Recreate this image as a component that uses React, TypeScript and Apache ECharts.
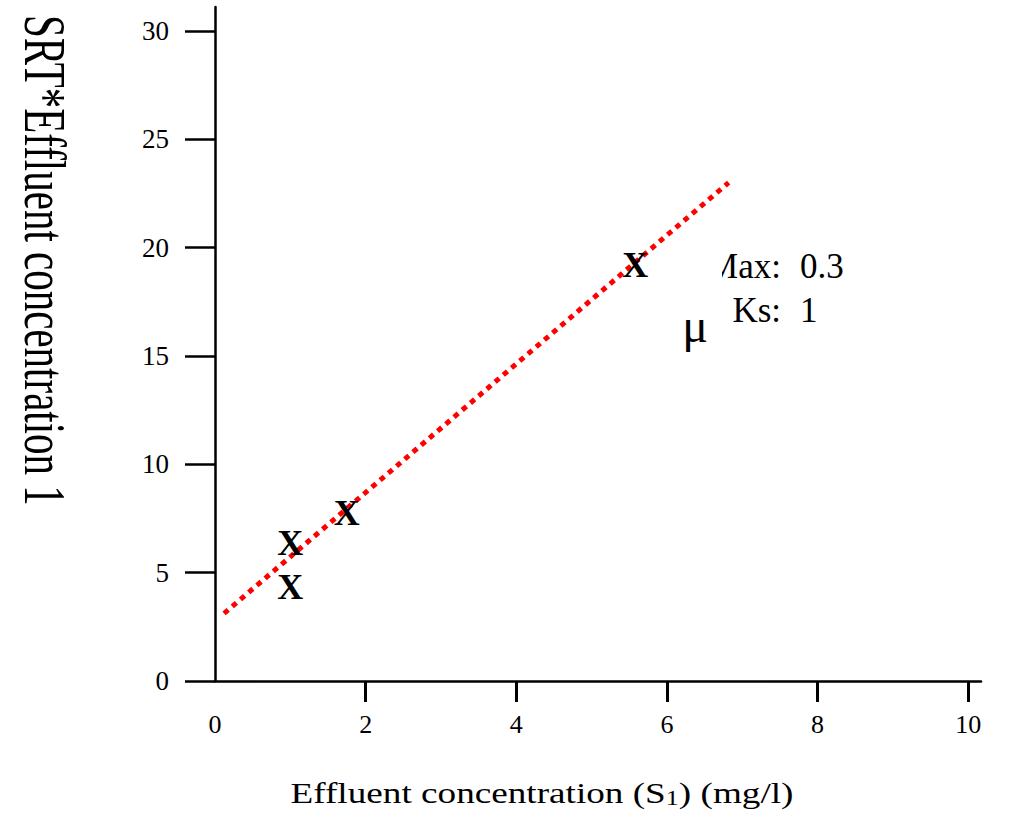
import React, { useEffect, useRef } from "react";
import * as echarts from "echarts";

// ---- data ----
const X_TICKS = [0, 2, 4, 6, 8, 10];
const X_MINOR_TICKS = [2, 4, 6, 8, 10];
const Y_TICKS = [0, 5, 10, 15, 20, 25, 30];

// measured points (effluent concentration S1, SRT*S1)
const S_VALUES = [1.0, 1.0, 1.75, 5.58];
const SRT_S_VALUES = [6.35, 4.35, 7.74, 19.2];

// fitted straight line end points
const FIT_X = [0.12, 6.82];
const FIT_Y = [3.12, 23.0];

const PARAM_LABELS = ["Max:", "Ks:"];
const PARAM_VALUES = ["0.3", "1"];

const SERIF = "Liberation Serif";

export default function App() {
  const ref = useRef<HTMLDivElement>(null);

  useEffect(() => {
    document.body.style.margin = "0";
    if (!ref.current) return;
    const chart = echarts.init(ref.current, undefined, { renderer: "svg" });

    const points = S_VALUES.map((s, i) => [s, SRT_S_VALUES[i]]);
    const fit = FIT_X.map((x, i) => [x, FIT_Y[i]]);

    chart.setOption({
      animation: false,
      backgroundColor: "#ffffff",
      grid: { left: 215, right: 28, top: 7, bottom: 137 },
      xAxis: {
        type: "value",
        min: 0,
        max: 10.17,
        splitLine: { show: false },
        axisLine: { show: true, lineStyle: { color: "#000", width: 2.5 } },
        axisTick: {
          show: true,
          customValues: X_MINOR_TICKS,
          length: 21,
          lineStyle: { color: "#000", width: 3 },
        },
        axisLabel: {
          customValues: X_TICKS,
          margin: 30,
          color: "#000",
          fontSize: 26,
          fontFamily: SERIF,
        },
      },
      yAxis: {
        type: "value",
        min: 0,
        max: 31.1,
        splitLine: { show: false },
        axisLine: { show: true, lineStyle: { color: "#000", width: 2.5 } },
        axisTick: {
          show: true,
          customValues: Y_TICKS,
          length: 30,
          lineStyle: { color: "#000", width: 2.5 },
        },
        axisLabel: {
          customValues: Y_TICKS,
          margin: 46,
          color: "#000",
          fontSize: 27,
          fontFamily: SERIF,
        },
      },
      series: [
        {
          type: "line",
          data: fit,
          symbol: "none",
          lineStyle: { color: "#ff0000", width: 5, type: [5.5, 5.3] },
          z: 2,
        },
        {
          type: "scatter",
          data: points,
          symbol: "circle",
          symbolSize: 1,
          itemStyle: { color: "rgba(0,0,0,0)", opacity: 1 },
          label: {
            show: true,
            position: "inside",
            formatter: "X",
            color: "#000",
            opacity: 1,
            textBorderWidth: 0,
            fontWeight: "bold",
            fontSize: 36,
            fontFamily: SERIF,
          },
          emphasis: { disabled: true },
          z: 3,
        },
      ],
      graphic: [
        {
          type: "text",
          x: 44.6,
          y: 15,
          rotation: -Math.PI / 2,
          scaleY: 1.42,
          style: {
            text: "SRT*Effluent concentration 1",
            fontSize: 41,
            fontFamily: SERIF,
            fill: "#000",
            textAlign: "left",
            textVerticalAlign: "middle",
          },
        },
        {
          type: "text",
          x: 542,
          y: 793,
          scaleX: 1.24,
          style: {
            text: "{a|Effluent concentration (S}{b|1}{a|) (mg/l)}",
            textAlign: "center",
            textVerticalAlign: "middle",
            fill: "#000",
            rich: {
              a: { fontSize: 30, fontFamily: SERIF, color: "#000", verticalAlign: "bottom" },
              b: { fontSize: 21, fontFamily: SERIF, color: "#000", verticalAlign: "bottom" },
            },
          },
        },
        {
          type: "text",
          x: 781,
          y: 266,
          style: {
            text: PARAM_LABELS[0],
            fontSize: 35,
            fontFamily: SERIF,
            fill: "#000",
            textAlign: "right",
            textVerticalAlign: "middle",
          },
        },
        {
          type: "text",
          x: 800,
          y: 266,
          style: {
            text: PARAM_VALUES[0],
            fontSize: 35,
            fontFamily: SERIF,
            fill: "#000",
            textAlign: "left",
            textVerticalAlign: "middle",
          },
        },
        {
          type: "text",
          x: 781,
          y: 310,
          style: {
            text: PARAM_LABELS[1],
            fontSize: 35,
            fontFamily: SERIF,
            fill: "#000",
            textAlign: "right",
            textVerticalAlign: "middle",
          },
        },
        {
          type: "text",
          x: 800,
          y: 310,
          style: {
            text: PARAM_VALUES[1],
            fontSize: 35,
            fontFamily: SERIF,
            fill: "#000",
            textAlign: "left",
            textVerticalAlign: "middle",
          },
        },
        {
          type: "rect",
          shape: { x: 700, y: 248, width: 22, height: 36 },
          style: { fill: "#ffffff" },
          z: 100,
        },
        {
          type: "text",
          x: 695,
          y: 325,
          style: {
            text: "μ",
            fontSize: 48,
            fontFamily: SERIF,
            fill: "#000",
            textAlign: "center",
            textVerticalAlign: "middle",
          },
        },
      ],
    });

    return () => {
      chart.dispose();
    };
  }, []);

  return <div ref={ref} style={{ width: 1009, height: 818 }} />;
}
